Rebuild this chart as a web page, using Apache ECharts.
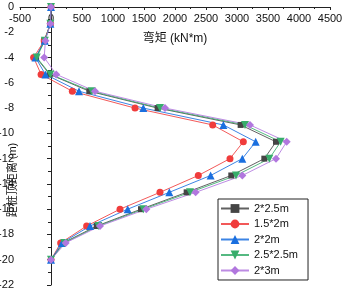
<!DOCTYPE html>
<html>
	<head>
		<meta charset="utf-8">
		<script src="https://cdn.jsdelivr.net/npm/echarts@6/dist/echarts.min.js"></script>
		<title>弯矩</title>
	</head>
	<body>
		<style>
			html,
			body,
			#main {
				width: 100%;
				height: 100%;
				margin: 0;
				background: #fff;
			}
		</style>
		<div id="main"></div>
		<script type="text/javascript">
			// 深度 (m)
			var depth = [0, -1.333, -2.667, -4, -5.333, -6.667, -8, -9.333, -10.667, -12, -13.333, -14.667, -16, -17.333, -18.667, -20];
			// 各工况弯矩 (kN*m)
			var names = ['2*2.5m', '1.5*2m', '2*2m', '2.5*2.5m', '2*3m'];
			var m_2x25 = [0, -10, -110, -240, -20, 618, 1720, 3059, 3629, 3441, 2908, 2188, 1452, 737, 198, 0];
			var m_15x2 = [0, -10, -110, -280, -160, 344, 1355, 2608, 3102, 2887, 2376, 1758, 1113, 575, 156, 0];
			var m_2x2 = [0, -10, -100, -250, -90, 452, 1489, 2780, 3301, 3086, 2575, 1908, 1237, 629, 177, 0];
			var m_25x25 = [0, -10, -100, -230, -10, 656, 1758, 3129, 3704, 3521, 2984, 2242, 1489, 763, 215, 0];
			var m_2x3 = [0, -10, -90, -110, 85, 710, 1839, 3210, 3801, 3629, 3086, 2333, 1537, 790, 237, 0];
			var values = [m_2x25, m_15x2, m_2x2, m_25x25, m_2x3];
			var colors = ['#454545', '#f03c3c', '#1a6fdf', '#37ad6b', '#b177de'];
			var symbols = ['rect', 'circle', 'triangle', 'path://M0,0 L10,0 L5,9 Z', 'diamond'];
			var sizes = [6, 7, 8, 8, 8];

			var font = 'Liberation Sans, Arial, Noto Sans CJK SC';
			var myChart = echarts.init(document.getElementById('main'));

			var series = [];
			for (var i = 0; i < names.length; i++) {
				var pts = [];
				for (var j = 0; j < depth.length; j++) {
					pts.push([values[i][j], depth[j]]);
				}
				series.push({
					name: names[i],
					type: 'line',
					data: pts,
					symbol: symbols[i],
					symbolSize: sizes[i],
					showAllSymbol: true,
					animation: false,
					itemStyle: { color: colors[i] },
					lineStyle: { color: colors[i], width: 1, opacity: 0.85 }
				});
			}

			var option = {
				backgroundColor: '#fff',
				textStyle: { fontFamily: font },
				grid: { left: 20, right: 14, top: 7, bottom: 11, outerBoundsMode: 'none', containLabel: false },
				// y轴标题 (轴线在0处，标题单独放)
				graphic: [{
					type: 'text',
					x: 13,
					y: 180,
					rotation: Math.PI / 2,
					style: {
						text: '距桩顶距离 (m)',
						font: '11px ' + font,
						fill: '#111',
						align: 'center',
						verticalAlign: 'middle'
					}
				}],
				legend: {
					orient: 'vertical',
					left: 218,
					top: 199,
					padding: [4, 10, 4, 2],
					itemGap: 4.5,
					itemWidth: 28,
					itemHeight: 11,
					borderColor: '#222',
					borderWidth: 1,
					textStyle: { fontSize: 11, color: '#111', fontFamily: font },
					data: names
				},
				xAxis: {
					type: 'value',
					position: 'top',
					min: -500,
					max: 4500,
					interval: 500,
					name: '弯矩 (kN*m)',
					nameLocation: 'middle',
					nameGap: -38,
					nameTextStyle: { fontSize: 12, color: '#111', fontFamily: font },
					axisLine: { onZero: false, lineStyle: { color: '#222' } },
					axisTick: { inside: true, length: 3, lineStyle: { color: '#222' } },
					minorTick: { show: true, splitNumber: 2, length: 2, lineStyle: { color: '#222' } },
					axisLabel: { inside: true, margin: 6, fontSize: 11, color: '#111', formatter: function(v) { return String(v); } },
					splitLine: { show: false }
				},
				yAxis: {
					type: 'value',
					min: -22,
					max: 0,
					interval: 2,
					axisLine: { onZero: true, lineStyle: { color: '#222' } },
					axisTick: { length: 4, lineStyle: { color: '#222' } },
					minorTick: { show: true, splitNumber: 2, length: 3, lineStyle: { color: '#222' } },
					axisLabel: { margin: 6, fontSize: 11, color: '#111' },
					splitLine: { show: false }
				},
				series: series
			};

			myChart.setOption(option);

			window.onresize = function() {
				myChart.resize();
			}
		</script>
	</body>
</html>
